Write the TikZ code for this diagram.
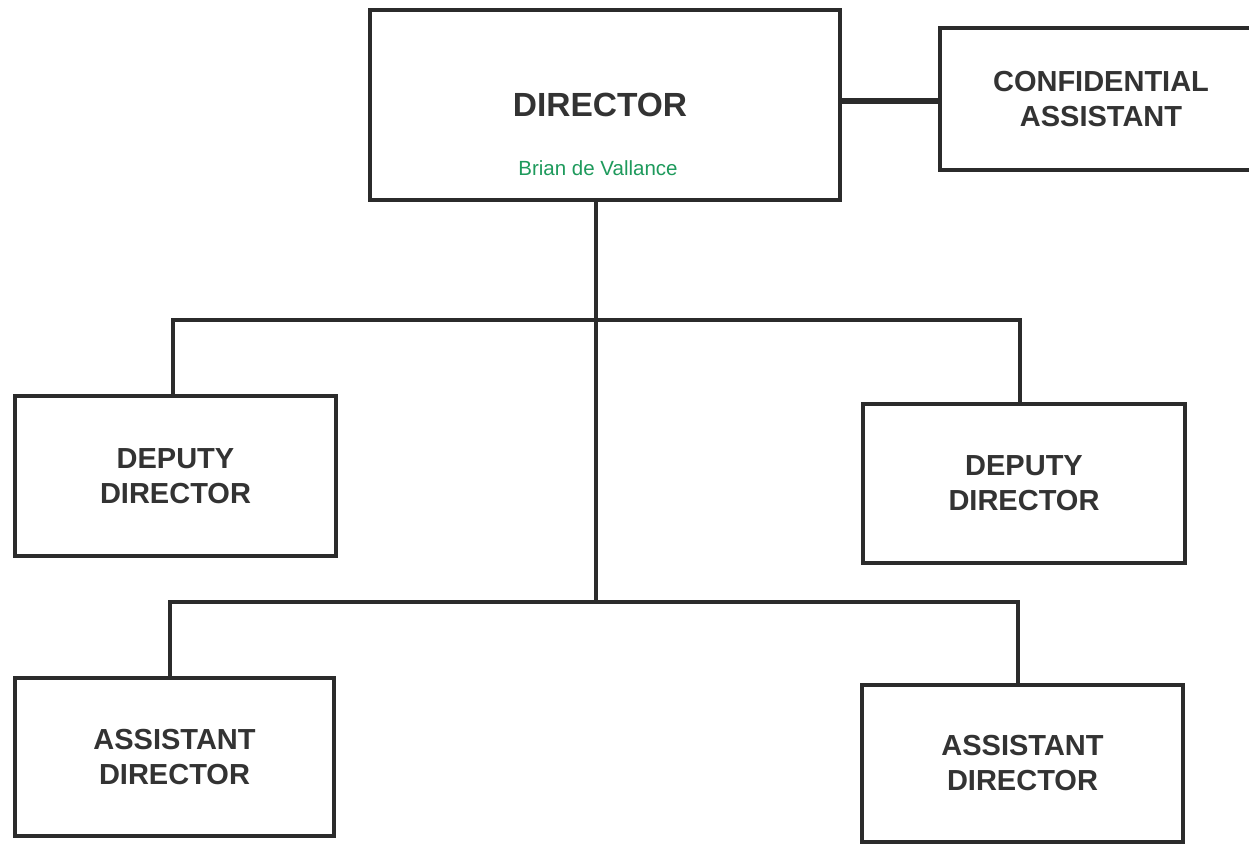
\documentclass[tikz,border=0pt]{standalone}
\usepackage{fontspec}
\setmainfont{Liberation Sans}
\definecolor{ink}{HTML}{2B2B2B}
\definecolor{txt}{HTML}{333333}
\definecolor{namegreen}{HTML}{1E9A5C}
\begin{document}
\begin{tikzpicture}[x=1pt,y=1pt,
  box/.style={draw=ink, line width=3.8pt, fill=white, inner sep=0pt, align=center,
              text=txt, font=\fontsize{29}{35}\selectfont\bfseries},
  link/.style={draw=ink, line width=4pt},
  title/.style={text=txt, font=\fontsize{33.5}{40}\selectfont\bfseries, inner sep=0pt},
  person/.style={text=namegreen, font=\fontsize{20.5}{24}\selectfont, inner sep=0pt}]
\useasboundingbox[fill=white] (0,0) rectangle (1249,-843);

% boxes
\node[box, minimum width=470, minimum height=190] (dir) at (605,-105) {};
\node[title] (dirt) at (600,-105) {DIRECTOR};
\node[person] (dirn) at (598,-168) {Brian de Vallance};
\node[box, minimum width=322, minimum height=142] (conf) at (1101,-99) {CONFIDENTIAL\\ASSISTANT};

\node[box, minimum width=321, minimum height=160] (dl) at (175.5,-476) {DEPUTY\\DIRECTOR};
\node[box, minimum width=322, minimum height=159] (dr) at (1024,-483.5) {DEPUTY\\DIRECTOR};

\node[box, minimum width=319, minimum height=158] (al) at (174.5,-757) {ASSISTANT\\DIRECTOR};
\node[box, minimum width=321, minimum height=157] (ar) at (1022.5,-763.5) {ASSISTANT\\DIRECTOR};

% bus junctions on the central stem
\coordinate (j1) at (596,-320);
\coordinate (j2) at (596,-602);

% connectors
\draw[link, line width=5.5pt] (dir.east |- 0,-101) -- (conf.west |- 0,-101);
\draw[link] (dir.south -| j1) -- (j2);
\draw[link] (dl.north -| 173,0) |- (j1) -| (dr.north -| 1020,0);
\draw[link] (al.north -| 170,0) |- (j2) -| (ar.north -| 1018,0);
\end{tikzpicture}
\end{document}
